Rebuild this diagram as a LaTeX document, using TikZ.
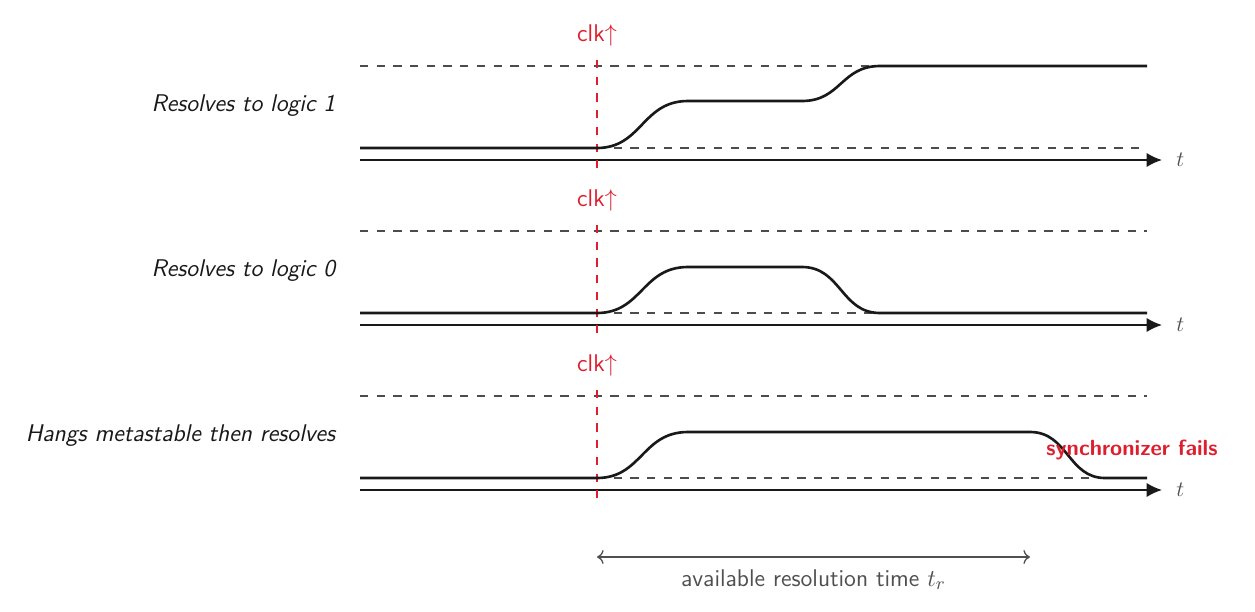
\documentclass[tikz,border=0pt]{standalone}
\usetikzlibrary{arrows.meta,positioning,calc}
\definecolor{clkred}{RGB}{222,30,45}
\definecolor{txtgray}{RGB}{80,80,80}
\begin{document}
\begin{tikzpicture}
  [x=0.016cm,y=-0.016cm,every node/.style={font=\sffamily},
   sig/.style={line width=1.2pt,black!90},
   axis/.style={thick,black!90,-{Latex[length=7pt,width=6.5pt]}},
   level/.style={dash pattern=on 3.8pt off 3.8pt,black!70,line width=0.6pt},
   clkline/.style={dash pattern=on 3.8pt off 3.8pt,clkred,line width=0.6pt},
   clklabel/.style={text=clkred,font=\fontsize{11}{13}\sffamily},
   rowlabel/.style={anchor=east,font=\fontsize{11}{13}\sffamily\itshape,text=black!90}]
  \useasboundingbox (0,0) rectangle (1255,611);

  \foreach \row/\y/\txt in {1/0/Resolves to logic 1,2/165/Resolves to logic 0,3/330/Hangs metastable then resolves} {
    \coordinate (lo\row) at (360,148+\y);
    \coordinate (loC\row) at (597,148+\y);
    \coordinate (loE\row) at (1147,148+\y);
    \coordinate (hi\row) at (360,66+\y);
    \coordinate (hiE\row) at (1147,66+\y);
    \coordinate (ax\row) at (360,160+\y);
    \coordinate (axE\row) at (1162,160+\y);
    \coordinate (clkB\row) at (597,168+\y);
    \node[clklabel] (clk\row) at (597,35+\y) {clk$\uparrow$};
    \node[right=3pt of axE\row,text=txtgray] (t\row) {$t$};
    \node[rowlabel] (lab\row) at (343,106+\y) {\txt};
    \draw[level] (hi\row) -- (hiE\row);
    \draw[level] (loC\row) -- (loE\row);
    \draw[axis] (ax\row) -- (axE\row);
    \draw[clkline] ([yshift=-3pt]clk\row.south) -- (clkB\row);
  }

  % resolves to 1
  \draw[sig] (lo1) -- (loC1) .. controls (642,148) and (642,101) .. (688,101)
    -- (802,101) .. controls (841,101) and (841,66) .. (880,66) -- (hiE1);
  % resolves to 0
  \draw[sig] (lo2) -- (loC2) .. controls (642,313) and (642,267) .. (688,267)
    -- (802,267) .. controls (841,267) and (841,313) .. (880,313) -- (loE2);
  % metastable
  \draw[sig] (lo3) -- (loC3) .. controls (642,478) and (642,432) .. (688,432)
    -- (1030,432) .. controls (1068,432) and (1068,478) .. (1105,478) -- (loE3);
  \node[font=\sffamily\bfseries,text=clkred] (fail) at (1132,450) {synchronizer fails};

  \coordinate (trA) at (597,557);
  \coordinate (trB) at (1030,557);
  \draw[semithick,txtgray,{To[length=3pt]}-{To[length=3pt]}] (trA) -- node[below=2pt,text=txtgray,font=\fontsize{11}{13}\sffamily] {available resolution time $t_r$} (trB);
\end{tikzpicture}
\end{document}
